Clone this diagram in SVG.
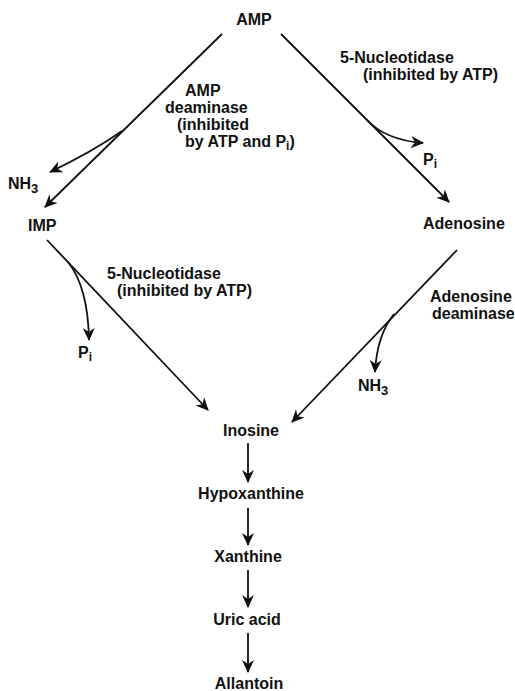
<svg xmlns="http://www.w3.org/2000/svg" width="515" height="691" viewBox="0 0 515 691">
<style>
text{font-family:"Liberation Sans",Arial,sans-serif;font-weight:bold;font-size:16px;fill:#111}
.c{text-anchor:middle}
.ln{fill:none;stroke:#111;stroke-width:1.8}
</style>
<defs>
<marker id="ah" markerUnits="userSpaceOnUse" markerWidth="14" markerHeight="12" viewBox="0 0 14 12" refX="12" refY="6" orient="auto">
<path d="M0,0 L13,6 L0,12 L4,6 z" fill="#111"/>
</marker>
</defs>
<rect width="515" height="691" fill="#fff"/>
<g id="connectors">
<path class="ln" d="M222,34 L45,207" marker-end="url(#ah)"/>
<path class="ln" d="M122,131 Q92,152 50,172" marker-end="url(#ah)"/>
<path class="ln" d="M281,34 L449,202" marker-end="url(#ah)"/>
<path class="ln" d="M366,119 Q385,140 423,143" marker-end="url(#ah)"/>
<path class="ln" d="M47,240 L208,410" marker-end="url(#ah)"/>
<path class="ln" d="M68,262 Q88,287 89,340" marker-end="url(#ah)"/>
<path class="ln" d="M457,250 L292,422" marker-end="url(#ah)"/>
<path class="ln" d="M394,314 Q377,335 375,372" marker-end="url(#ah)"/>
<path class="ln" d="M248,443 L248,482" marker-end="url(#ah)"/>
<path class="ln" d="M248,508 L248,545" marker-end="url(#ah)"/>
<path class="ln" d="M248,570 L248,607" marker-end="url(#ah)"/>
<path class="ln" d="M248,633 L248,672" marker-end="url(#ah)"/>
</g>
<g id="AMP"><text class="c" x="254" y="25">AMP</text></g>
<g id="IMP"><text x="28" y="231">IMP</text></g>
<g id="Adenosine"><text x="423" y="229">Adenosine</text></g>
<g id="Inosine"><text class="c" x="251" y="436">Inosine</text></g>
<g id="Hypoxanthine"><text class="c" x="251" y="499">Hypoxanthine</text></g>
<g id="Xanthine"><text class="c" x="248" y="562">Xanthine</text></g>
<g id="UricAcid"><text class="c" x="247" y="625">Uric acid</text></g>
<g id="Allantoin"><text class="c" x="249" y="689">Allantoin</text></g>
<g id="NH3-left"><text x="8" y="189">NH<tspan font-size="13" dy="4">3</tspan></text></g>
<g id="NH3-right"><text x="358" y="391">NH<tspan font-size="13" dy="4">3</tspan></text></g>
<g id="Pi-right"><text x="423" y="165">P<tspan font-size="12" dy="3">i</tspan></text></g>
<g id="Pi-left"><text x="78" y="358">P<tspan font-size="12" dy="3">i</tspan></text></g>
<g id="label-amp-deaminase">
<text x="185" y="96">AMP</text>
<text x="165" y="113">deaminase</text>
<text x="177" y="130">(inhibited</text>
<text x="185" y="147">by ATP and P<tspan font-size="12" dy="3">i</tspan><tspan dy="-3">)</tspan></text>
</g>
<g id="label-5nt-right">
<text x="340" y="63">5-Nucleotidase</text>
<text x="363" y="80">(inhibited by ATP)</text>
</g>
<g id="label-5nt-left">
<text x="107" y="279">5-Nucleotidase</text>
<text x="117" y="296">(inhibited by ATP)</text>
</g>
<g id="label-ada">
<text x="430" y="302">Adenosine</text>
<text x="432" y="319">deaminase</text>
</g>
</svg>
